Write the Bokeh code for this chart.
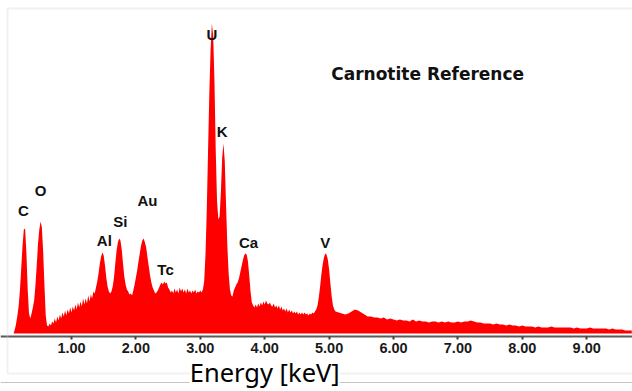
import numpy as np
from bokeh.plotting import figure
from bokeh.models import Range1d, FixedTicker, NumeralTickFormatter, Label, BoxAnnotation, Span, ColumnDataSource
from bokeh.core.properties import value
from bokeh.embed import file_html
from bokeh.resources import INLINE

# ---- spectrum data (counts, arbitrary units) ----
# segment A: channels from 0.10 keV, 0.02 keV per channel
seg_a_start = 0.10
seg_a_step = 0.02
counts_a = [
    0, 4, 10, 18, 28, 44, 66, 88, 104, 105,
    80, 44, 20, 15, 20, 26, 33, 48, 68, 90,
    104, 112, 106, 82, 48, 18, 8, 7, 10, 8,
    12, 10, 15, 11, 17, 13, 19, 15, 21, 17,
    23, 18, 24, 20, 26, 21, 27, 23, 29, 24,
    31, 26, 32, 27, 35, 29, 35, 30, 38, 32,
    39, 35, 42, 40, 46, 52, 60, 70, 77, 81,
    78, 68, 56, 47, 42, 40, 42, 47, 56, 70,
    83, 91, 95, 93, 84, 70, 57, 49, 44, 42,
    39, 40, 38, 43, 49, 56, 63, 72, 80, 88,
    93, 95, 91, 86, 76, 67, 58, 51, 46, 43,
    40, 41, 43, 46, 49, 51, 49, 52, 50, 51,
    46, 44, 41, 43, 40, 45, 41, 44, 40, 46,
    42, 45, 41, 44, 40, 45, 41, 43, 40, 43,
    41, 44, 40, 42, 41, 43, 41, 44, 52, 78,
    122, 182, 240, 284, 310, 298, 252, 182, 132, 114,
    117, 142, 176, 190, 172, 128, 88, 60, 44, 38,
    37, 43, 46, 49, 51, 55, 61, 67, 73, 78,
    80, 79, 72, 58, 42, 31, 28, 26, 29, 26,
    30, 27, 31, 28, 32, 29, 33, 30, 29, 31,
    28, 27, 30, 26, 28, 25, 28, 24, 27, 23,
    25, 22, 25, 21, 24, 21, 23, 20, 22, 20,
    22, 19, 21, 19, 21, 19, 21, 19, 20, 18,
    20, 19, 21, 20, 22, 24, 28, 36, 47, 59,
    69, 76, 80, 79, 74, 64, 50, 37, 28, 24,
    22,
]
# segment B: channels from 5.15 keV, 0.05 keV per channel
seg_b_start = 5.15
seg_b_step = 0.05
counts_b = [
    21, 20, 19, 20, 22, 24, 23, 21, 19, 17,
    17, 16, 16, 15, 16, 14, 15, 14, 13, 14,
    13, 13, 12, 14, 12, 13, 12, 12, 11, 12,
    12, 11, 12, 11, 12, 11, 11, 12, 11, 12,
    12, 13, 12, 11, 11, 10, 10, 10, 9, 10,
    9, 9, 8, 9, 8, 8, 7, 8, 7, 7,
    7, 6, 7, 6, 6, 6, 7, 6, 6, 6,
    6, 6, 6, 5, 6, 5, 5, 5, 6, 5,
    5, 5, 5, 5, 4, 5, 4, 4, 4, 3,
    3, 3,
]

# element labels
label_text = ["C", "O", "Al", "Si", "Au", "Tc", "U", "K", "Ca", "V"]
label_energy = [0.255, 0.52, 1.51, 1.76, 2.18, 2.46, 3.18, 3.34, 3.75, 4.94]
label_counts = [123, 143, 93, 112, 133, 64, 299, 202, 91, 91]

tick_values = [1, 2, 3, 4, 5, 6, 7, 8, 9]
title_text = "Carnotite Reference"
axis_title = "Energy [keV]"

energy_a = seg_a_start + seg_a_step * np.arange(len(counts_a))
energy_b = seg_b_start + seg_b_step * np.arange(len(counts_b))
energy = np.concatenate([energy_a, energy_b])
counts = np.array(counts_a + counts_b, dtype=float)

p = figure(width=632, height=391, output_backend="svg", toolbar_location=None,
           x_range=Range1d(-0.1025, 9.711), y_range=Range1d(-58, 333),
           y_axis_location=None, min_border=0,
           min_border_left=0, min_border_right=0, min_border_top=0, min_border_bottom=0)
p.outline_line_color = None
p.grid.visible = False
p.background_fill_color = "white"
p.border_fill_color = "white"

# light grey frame around the chart and rule under it
frame_box = BoxAnnotation(left=0.006, right=12, top=325, bottom=-40,
                          fill_alpha=0, line_color="#d2d2d2", line_width=2)
p.add_layout(frame_box)
bottom_rule = Span(location=-49, dimension="width", line_color="#c4c4c4", line_width=1)
p.add_layout(bottom_rule)

src = ColumnDataSource(dict(energy=energy, counts=counts))
p.varea(x="energy", y1=0, y2="counts", source=src, fill_color="#ff0000")

lab_src = ColumnDataSource(dict(x=label_energy, y=label_counts, t=label_text))
p.text(x="x", y="y", text="t", source=lab_src, text_align="center", text_baseline="middle",
       text_font=value("Liberation Sans"), text_font_style="bold", text_font_size="15px",
       text_color="#111111")

p.add_layout(Label(x=6.53, y=260, text=title_text, text_align="center", text_baseline="middle",
                   text_font="DejaVu Sans", text_font_style="bold", text_font_size="17px",
                   text_color="#111111"))

ax = p.xaxis[0]
ax.fixed_location = -2.5
ax.ticker = FixedTicker(ticks=tick_values, minor_ticks=[])
ax.formatter = NumeralTickFormatter(format="0.00")
ax.axis_line_color = "#5a5a5a"
ax.axis_line_width = 2
ax.major_tick_in = 0
ax.major_tick_out = 3
ax.major_tick_line_width = 2
ax.major_tick_line_color = "#404040"
ax.minor_tick_line_color = None
ax.major_label_standoff = 4
ax.major_label_text_font = "Liberation Sans"
ax.major_label_text_font_style = "bold"
ax.major_label_text_font_size = "14.5px"
ax.major_label_text_color = "#1a1a1a"

p.add_layout(Label(x=4.0, y=-38, text=axis_title, text_align="center", text_baseline="middle",
                   text_font="Noto Sans", text_font_size="25.5px", text_color="#000000",
                   background_fill_color="white"))

open("out.html", "w").write(file_html(p, INLINE))
